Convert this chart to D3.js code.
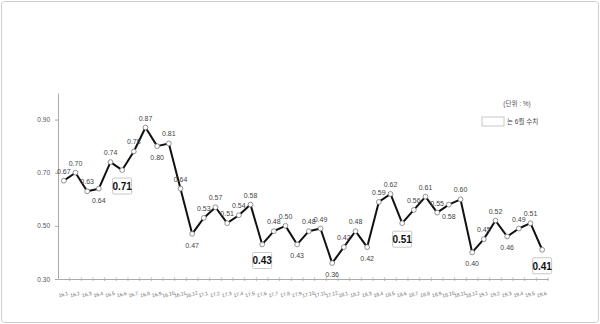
<!DOCTYPE html>
<html>
<head>
<meta charset="utf-8">
<script src="https://cdn.jsdelivr.net/npm/d3@7"></script>
<style>
  body { margin: 0; background: #fff; }
  svg { display: block; font-family: "Liberation Sans Narrow", "Liberation Sans", "Noto Sans CJK KR", sans-serif; }
</style>
</head>
<body>
<svg id="chart"></svg>
<script>
// months 16.1 ~ 19.6
const months = [
  '16.1','16.2','16.3','16.4','16.5','16.6','16.7','16.8','16.9','16.10','16.11','16.12',
  '17.1','17.2','17.3','17.4','17.5','17.6','17.7','17.8','17.9','17.10','17.11','17.12',
  '18.1','18.2','18.3','18.4','18.5','18.6','18.7','18.8','18.9','18.10','18.11','18.12',
  '19.1','19.2','19.3','19.4','19.5','19.6'
];
const rates = [
  0.67, 0.70, 0.63, 0.64, 0.74, 0.71, 0.78, 0.87, 0.80, 0.81, 0.64, 0.47,
  0.53, 0.57, 0.51, 0.54, 0.58, 0.43, 0.48, 0.50, 0.43, 0.48, 0.49, 0.36,
  0.42, 0.48, 0.42, 0.59, 0.62, 0.51, 0.56, 0.61, 0.55, 0.58, 0.60, 0.40,
  0.45, 0.52, 0.46, 0.49, 0.51, 0.41
];
// which labels sit under the point (1) instead of above (0)
const labelBelow = [
  0, 0, 0, 1, 0, 1, 0, 0, 1, 0, 0, 1,
  0, 0, 0, 0, 0, 1, 0, 0, 1, 0, 0, 1,
  0, 0, 1, 0, 0, 1, 0, 0, 0, 1, 0, 1,
  0, 0, 1, 0, 0, 1
];
const yTicks = [0.30, 0.50, 0.70, 0.90];

const data = months.map((m, i) => ({ m, v: rates[i], below: labelBelow[i] === 1, june: m.endsWith('.6') }));

const width = 600, height = 324;
const margin = { top: 93, right: 52, bottom: 45, left: 58 };

const svg = d3.select('#chart')
  .attr('width', width)
  .attr('height', height)
  .attr('viewBox', [0, 0, width, height]);

// outer frame
svg.append('rect')
  .attr('x', 1.5).attr('y', 1.5)
  .attr('width', width - 3).attr('height', height - 3)
  .attr('rx', 3)
  .attr('fill', '#fff')
  .attr('stroke', '#cfcfcf');

const x = d3.scaleBand()
  .domain(months)
  .range([margin.left, width - margin.right]);

const y = d3.scaleLinear()
  .domain([0.30, 1.00])
  .range([height - margin.bottom, margin.top]);

const cx = d => x(d.m) + x.bandwidth() / 2;

// y axis
const yAxis = svg.append('g')
  .attr('transform', 'translate(' + margin.left + ',0)')
  .call(d3.axisLeft(y).tickValues(yTicks).tickFormat(d3.format('.2f')).tickSize(3).tickSizeOuter(0));
yAxis.select('.domain').attr('stroke', '#aaa');
yAxis.selectAll('.tick line').attr('stroke', '#aaa');
yAxis.selectAll('.tick text').attr('fill', '#555').style('font-size', '6.5px').attr('x', -8);

// x axis
const xAxis = svg.append('g')
  .attr('transform', 'translate(0,' + (height - margin.bottom) + ')')
  .call(d3.axisBottom(x).tickSize(0).tickSizeOuter(0));
xAxis.select('.domain').attr('stroke', '#aaa');
xAxis.selectAll('.tick text')
  .attr('fill', '#666')
  .style('font-size', '5px')
  .attr('y', 0)
  .attr('dy', 0)
  .attr('transform', 'translate(0,17) rotate(-15)');

// tick marks at band boundaries
svg.append('g')
  .selectAll('line')
  .data(months)
  .join('line')
    .attr('x1', d => x(d) + x.bandwidth())
    .attr('x2', d => x(d) + x.bandwidth())
    .attr('y1', height - margin.bottom - 1.5)
    .attr('y2', height - margin.bottom + 2)
    .attr('stroke', '#aaa')
    .attr('stroke-width', 0.8);

// line
const line = d3.line()
  .x(cx)
  .y(d => y(d.v));

svg.append('path')
  .datum(data)
  .attr('fill', 'none')
  .attr('stroke', '#111')
  .attr('stroke-width', 2)
  .attr('stroke-linejoin', 'round')
  .attr('d', line);

// markers
svg.append('g')
  .selectAll('circle')
  .data(data)
  .join('circle')
    .attr('cx', cx)
    .attr('cy', d => y(d.v))
    .attr('r', 2.4)
    .attr('fill', '#fff')
    .attr('stroke', '#777')
    .attr('stroke-width', 0.8);

// value labels
svg.append('g')
  .selectAll('text')
  .data(data.filter(d => !d.june))
  .join('text')
    .attr('x', cx)
    .attr('y', d => y(d.v) + (d.below ? 14 : -7))
    .attr('text-anchor', 'middle')
    .attr('fill', '#444')
    .style('font-size', '7px')
    .text(d => d.v.toFixed(2));

// boxed June values
const juneG = svg.append('g')
  .selectAll('g')
  .data(data.filter(d => d.june))
  .join('g')
    .attr('transform', d => 'translate(' + cx(d) + ',' + (y(d.v) + 8) + ')');

juneG.append('rect')
  .attr('x', -9.5).attr('y', 0)
  .attr('width', 19).attr('height', 16)
  .attr('rx', 1)
  .attr('fill', '#fff')
  .attr('stroke', '#c8c8c8')
  .attr('stroke-width', 1);

juneG.append('text')
  .attr('y', 12)
  .attr('text-anchor', 'middle')
  .attr('fill', '#111')
  .style('font-size', '10px')
  .style('font-weight', 'bold')
  .text(d => d.v.toFixed(2));

// legend
svg.append('text')
  .attr('x', 517).attr('y', 106)
  .attr('text-anchor', 'middle')
  .attr('fill', '#555')
  .style('font-size', '6.5px')
  .text('(단위 : %)');

svg.append('rect')
  .attr('x', 482).attr('y', 117)
  .attr('width', 22).attr('height', 9)
  .attr('fill', '#fff')
  .attr('stroke', '#c8c8c8');

svg.append('text')
  .attr('x', 507).attr('y', 124)
  .attr('fill', '#444')
  .style('font-size', '6.5px')
  .text('는 6월 수치');
</script>
</body>
</html>
